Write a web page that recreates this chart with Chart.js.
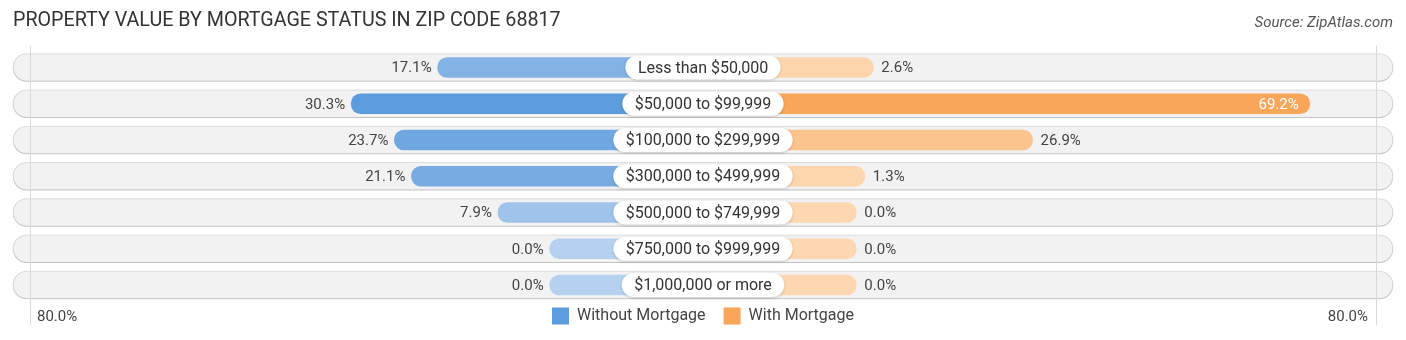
<!DOCTYPE html>
<html>
<head>
<meta charset="utf-8">
<title>Property Value by Mortgage Status in Zip Code 68817</title>
<script src="https://cdn.jsdelivr.net/npm/chart.js@4.4.0/dist/chart.umd.min.js"></script>
<style>
  html, body { margin: 0; padding: 0; background: #fff; }
  #wrap { position: relative; width: 1406px; height: 340px; overflow: hidden; }
  #title { position: absolute; left: 13px; top: 8px; font: 19.7px Roboto, sans-serif; color: #333; white-space: nowrap; }
  #source { position: absolute; right: 13px; top: 13px; font: italic 15px Roboto, sans-serif; color: #555; white-space: nowrap; }
  #chart { position: absolute; left: 0; top: 0; }
</style>
</head>
<body>
<div id="wrap">
  <canvas id="chart" width="1406" height="340"></canvas>
  <div id="title">PROPERTY VALUE BY MORTGAGE STATUS IN ZIP CODE 68817</div>
  <div id="source">Source: ZipAtlas.com</div>
</div>
<script>
// ── data ────────────────────────────────────────────────
const CATEGORIES = [
  'Less than $50,000',
  '$50,000 to $99,999',
  '$100,000 to $299,999',
  '$300,000 to $499,999',
  '$500,000 to $749,999',
  '$750,000 to $999,999',
  '$1,000,000 or more',
];
const WITHOUT_MORTGAGE = [17.1, 30.3, 23.7, 21.1, 7.9, 0.0, 0.0];
const WITH_MORTGAGE    = [2.6, 69.2, 26.9, 1.3, 0.0, 0.0, 0.0];
const SERIES_NAMES     = ['Without Mortgage', 'With Mortgage'];
const AXIS_TICKS       = ['80.0%', '80.0%'];

// ── layout constants (in % units of the value axis) ─────
const GAP   = 23.4;   // room kept free under the centre label
const TRACK = 105.3;  // half length of the grey row track

const BLUE_LO = [182, 209, 240], BLUE_HI = [92, 155, 220];
const ORNG_LO = [253, 215, 176], ORNG_HI = [249, 166, 88];
const FONT = 'Roboto, sans-serif';

function shade(lo, hi, t) {
  return 'rgb(' + lo.map((c, i) => Math.round(c + (hi[i] - c) * t)).join(',') + ')';
}
const maxBlue = Math.max(...WITHOUT_MORTGAGE);
const maxOrng = Math.max(...WITH_MORTGAGE);
const LEGEND_COLORS = [shade(BLUE_LO, BLUE_HI, 1), shade(ORNG_LO, ORNG_HI, 1)];

function pill(ctx, x, y, w, h, r) {
  ctx.beginPath();
  ctx.moveTo(x + r, y);
  ctx.lineTo(x + w - r, y);
  ctx.arc(x + w - r, y + r, r, -Math.PI / 2, Math.PI / 2);
  ctx.lineTo(x + r, y + h);
  ctx.arc(x + r, y + r, r, Math.PI / 2, Math.PI * 1.5);
  ctx.closePath();
}

// track shadow, grid lines, centre labels and value labels
const decor = {
  id: 'decor',
  beforeDatasetDraw(chart, args) {
    if (args.index !== 0) return;
    const ctx = chart.ctx;
    ctx.save();
    ctx.shadowColor = 'rgba(0,0,0,0.22)';
    ctx.shadowBlur = 3;
    ctx.shadowOffsetY = 1;
  },
  afterDatasetDraw(chart, args) {
    if (args.index !== 0) return;
    const ctx = chart.ctx, a = chart.chartArea;
    ctx.restore();
    // faint guide lines near the ends of the tracks
    ctx.save();
    ctx.strokeStyle = '#d9d9d9';
    ctx.lineWidth = 1;
    [a.left + 17.5, a.right - 16.5].forEach(x => {
      ctx.beginPath();
      ctx.moveTo(x, 46);
      ctx.lineTo(x, 325);
      ctx.stroke();
    });
    ctx.restore();
  },
  afterDatasetsDraw(chart) {
    const ctx = chart.ctx, a = chart.chartArea;
    const xs = chart.scales.x, ys = chart.scales.y;
    const cx = xs.getPixelForValue(0);
    ctx.save();
    ctx.textBaseline = 'middle';

    CATEGORIES.forEach((cat, i) => {
      const y = ys.getPixelForValue(i);

      // value labels
      ctx.font = '15px ' + FONT;
      const vb = WITHOUT_MORTGAGE[i];
      const xb = xs.getPixelForValue(-(GAP + vb));
      ctx.fillStyle = '#444';
      ctx.textAlign = 'right';
      ctx.fillText(vb.toFixed(1) + '%', xb - 6, y + 1);

      const vo = WITH_MORTGAGE[i];
      const xo = xs.getPixelForValue(GAP + vo);
      if (vo / 80 > 0.75) {
        ctx.fillStyle = '#fff';
        ctx.textAlign = 'right';
        ctx.fillText(vo.toFixed(1) + '%', xo - 11, y + 1);
      } else {
        ctx.fillStyle = '#444';
        ctx.textAlign = 'left';
        ctx.fillText(vo.toFixed(1) + '%', xo + 8, y + 1);
      }

      // centre label
      ctx.font = '16px ' + FONT;
      const w = ctx.measureText(cat).width + 25;
      ctx.save();
      ctx.shadowColor = 'rgba(0,0,0,0.18)';
      ctx.shadowBlur = 3;
      ctx.shadowOffsetY = 1;
      ctx.fillStyle = '#fff';
      pill(ctx, cx - w / 2, y - 12, w, 24, 12);
      ctx.fill();
      ctx.restore();
      ctx.fillStyle = '#333';
      ctx.textAlign = 'center';
      ctx.fillText(cat, cx, y + 1);
    });

    // axis end labels, on the legend line
    const hb = chart.legend.legendHitBoxes[0];
    const ly = hb ? hb.top + hb.height / 2 : a.bottom + 31;
    ctx.font = '15px ' + FONT;
    ctx.fillStyle = '#444';
    ctx.textAlign = 'left';
    ctx.fillText(AXIS_TICKS[0], a.left + 24, ly + 1);
    ctx.textAlign = 'right';
    ctx.fillText(AXIS_TICKS[1], a.right - 25, ly + 1);
    ctx.restore();
  }
};

new Chart(document.getElementById('chart'), {
  type: 'bar',
  data: {
    labels: CATEGORIES,
    datasets: [
      {
        label: 'track',
        data: CATEGORIES.map(() => [-TRACK, TRACK]),
        backgroundColor: '#f2f2f2',
        borderColor: '#e3e3e3',
        borderWidth: 1,
        borderRadius: 14,
        borderSkipped: false,
        barThickness: 28,
        grouped: false,
        clip: false,
        order: 3,
      },
      {
        label: SERIES_NAMES[0],
        data: WITHOUT_MORTGAGE.map(v => [-(GAP + v), 0]),
        backgroundColor: WITHOUT_MORTGAGE.map(v => shade(BLUE_LO, BLUE_HI, v / maxBlue)),
        borderWidth: 0,
        borderRadius: 10,
        borderSkipped: false,
        barThickness: 20,
        grouped: false,
        clip: false,
        order: 1,
      },
      {
        label: SERIES_NAMES[1],
        data: WITH_MORTGAGE.map(v => [0, GAP + v]),
        backgroundColor: WITH_MORTGAGE.map(v => shade(ORNG_LO, ORNG_HI, v / maxOrng)),
        borderWidth: 0,
        borderRadius: 10,
        borderSkipped: false,
        barThickness: 20,
        grouped: false,
        clip: false,
        order: 2,
      },
    ],
  },
  options: {
    indexAxis: 'y',
    responsive: false,
    animation: false,
    devicePixelRatio: 1,
    layout: { padding: { top: 67.5, bottom: 5.5, left: 13, right: 13 } },
    scales: {
      x: {
        min: -TRACK, max: TRACK,
        grid: { display: false },
        border: { display: false },
        ticks: { display: false },
        afterFit: s => { s.height = 4.5; },
      },
      y: {
        type: 'category',
        offset: false,
        display: false,
      },
    },
    plugins: {
      legend: {
        position: 'bottom',
        labels: {
          boxWidth: 17,
          boxHeight: 17,
          padding: 18,
          color: '#444',
          font: { family: FONT, size: 16 },
          generateLabels: chart => Chart.defaults.plugins.legend.labels.generateLabels(chart)
            .filter(l => l.datasetIndex > 0)
            .map(l => Object.assign(l, {
              fillStyle: LEGEND_COLORS[l.datasetIndex - 1],
              strokeStyle: LEGEND_COLORS[l.datasetIndex - 1],
              lineWidth: 0,
            })),
        },
      },
      tooltip: { enabled: false },
    },
  },
  plugins: [decor],
});
</script>
</body>
</html>
